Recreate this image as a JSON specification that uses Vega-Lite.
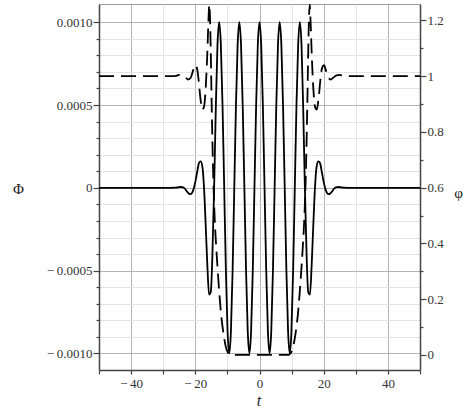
{
  "$schema": "https://vega.github.io/schema/vega-lite/v6.json",
  "width": 321,
  "height": 366,
  "autosize": {"type": "none"},
  "padding": {"left": 99, "top": 4, "right": 53, "bottom": 43},
  "background": "white",
  "config": {
    "view": {"stroke": "#9a9a9a", "strokeWidth": 1},
    "axis": {
      "labelFont": "Liberation Serif",
      "labelFontSize": 13,
      "labelColor": "#333333",
      "labelOverlap": false,
      "titleFont": "Liberation Serif",
      "titleColor": "#222222",
      "titleFontWeight": "normal",
      "domainColor": "#444444",
      "domainWidth": 1.5,
      "tickColor": "#444444",
      "tickWidth": 1.2,
      "labelPadding": 2,
      "gridWidth": 1
    }
  },
  "datasets": {
    "Phi": [
      {"t": -50, "P": 0},
      {"t": -28, "P": 0},
      {"t": -26.18, "P": 0.000001},
      {"t": -25.656, "P": 0.000002},
      {"t": -25.133, "P": 0.000004},
      {"t": -24.609, "P": 0.000005},
      {"t": -24.086, "P": 0.000004},
      {"t": -23.562, "P": 0},
      {"t": -23.038, "P": -0.00001},
      {"t": -22.515, "P": -0.000024},
      {"t": -21.991, "P": -0.000035},
      {"t": -21.468, "P": -0.000038},
      {"t": -20.944, "P": -0.000028},
      {"t": -20.42, "P": 0},
      {"t": -19.897, "P": 0.000045},
      {"t": -19.373, "P": 0.0001},
      {"t": -18.85, "P": 0.00015},
      {"t": -18.326, "P": 0.00016},
      {"t": -17.802, "P": 0.00013},
      {"t": -17.279, "P": 0},
      {"t": -16.755, "P": -0.000227},
      {"t": -16.232, "P": -0.000475},
      {"t": -15.708, "P": -0.000645},
      {"t": -15.184, "P": -0.00063},
      {"t": -14.661, "P": -0.0004},
      {"t": -14.137, "P": 0},
      {"t": -13.614, "P": 0.000477},
      {"t": -13.09, "P": 0.000862},
      {"t": -12.566, "P": 0.001},
      {"t": -12.043, "P": 0.000866},
      {"t": -11.519, "P": 0.0005},
      {"t": -10.996, "P": 0},
      {"t": -10.472, "P": -0.0005},
      {"t": -9.948, "P": -0.000866},
      {"t": -9.425, "P": -0.001},
      {"t": -8.901, "P": -0.000866},
      {"t": -8.378, "P": -0.0005},
      {"t": -7.854, "P": 0},
      {"t": -7.33, "P": 0.0005},
      {"t": -6.807, "P": 0.000866},
      {"t": -6.283, "P": 0.001},
      {"t": -5.76, "P": 0.000866},
      {"t": -5.236, "P": 0.0005},
      {"t": -4.712, "P": 0},
      {"t": -4.189, "P": -0.0005},
      {"t": -3.665, "P": -0.000866},
      {"t": -3.142, "P": -0.001},
      {"t": -2.618, "P": -0.000866},
      {"t": -2.094, "P": -0.0005},
      {"t": -1.571, "P": 0},
      {"t": -1.047, "P": 0.0005},
      {"t": -0.524, "P": 0.000866},
      {"t": 0, "P": 0.001},
      {"t": 0.524, "P": 0.000866},
      {"t": 1.047, "P": 0.0005},
      {"t": 1.571, "P": 0},
      {"t": 2.094, "P": -0.0005},
      {"t": 2.618, "P": -0.000866},
      {"t": 3.142, "P": -0.001},
      {"t": 3.665, "P": -0.000866},
      {"t": 4.189, "P": -0.0005},
      {"t": 4.712, "P": 0},
      {"t": 5.236, "P": 0.0005},
      {"t": 5.76, "P": 0.000866},
      {"t": 6.283, "P": 0.001},
      {"t": 6.807, "P": 0.000866},
      {"t": 7.33, "P": 0.0005},
      {"t": 7.854, "P": 0},
      {"t": 8.378, "P": -0.0005},
      {"t": 8.901, "P": -0.000866},
      {"t": 9.425, "P": -0.001},
      {"t": 9.948, "P": -0.000866},
      {"t": 10.472, "P": -0.0005},
      {"t": 10.996, "P": 0},
      {"t": 11.519, "P": 0.0005},
      {"t": 12.043, "P": 0.000866},
      {"t": 12.566, "P": 0.001},
      {"t": 13.09, "P": 0.000862},
      {"t": 13.614, "P": 0.000477},
      {"t": 14.137, "P": 0},
      {"t": 14.661, "P": -0.0004},
      {"t": 15.184, "P": -0.00063},
      {"t": 15.708, "P": -0.000645},
      {"t": 16.232, "P": -0.000475},
      {"t": 16.755, "P": -0.000227},
      {"t": 17.279, "P": 0},
      {"t": 17.802, "P": 0.00013},
      {"t": 18.326, "P": 0.00016},
      {"t": 18.85, "P": 0.00015},
      {"t": 19.373, "P": 0.0001},
      {"t": 19.897, "P": 0.000045},
      {"t": 20.42, "P": 0},
      {"t": 20.944, "P": -0.000028},
      {"t": 21.468, "P": -0.000038},
      {"t": 21.991, "P": -0.000035},
      {"t": 22.515, "P": -0.000024},
      {"t": 23.038, "P": -0.00001},
      {"t": 23.562, "P": 0},
      {"t": 24.086, "P": 0.000004},
      {"t": 24.609, "P": 0.000005},
      {"t": 25.133, "P": 0.000004},
      {"t": 25.656, "P": 0.000002},
      {"t": 26.18, "P": 0.000001},
      {"t": 28, "P": 0},
      {"t": 50, "P": 0}
    ],
    "phi": [
      {"t": -50, "f": 1},
      {"t": -27, "f": 1},
      {"t": -26, "f": 1.001},
      {"t": -25, "f": 1.005},
      {"t": -24, "f": 1.003},
      {"t": -23, "f": 0.995},
      {"t": -22.2, "f": 0.988},
      {"t": -21.4, "f": 0.995},
      {"t": -20.7, "f": 1.02},
      {"t": -20.1, "f": 1.04},
      {"t": -19.5, "f": 1.03},
      {"t": -19, "f": 0.99},
      {"t": -18.4, "f": 0.92},
      {"t": -17.85, "f": 0.88},
      {"t": -17.3, "f": 0.89},
      {"t": -16.8, "f": 0.95},
      {"t": -16.3, "f": 1.07},
      {"t": -15.9, "f": 1.2},
      {"t": -15.65, "f": 1.257},
      {"t": -15.45, "f": 1.22},
      {"t": -15.2, "f": 1.1},
      {"t": -14.9, "f": 0.9},
      {"t": -14.5, "f": 0.68},
      {"t": -14, "f": 0.5},
      {"t": -13.5, "f": 0.39},
      {"t": -13, "f": 0.3},
      {"t": -12.5, "f": 0.22},
      {"t": -12, "f": 0.15},
      {"t": -11.5, "f": 0.1},
      {"t": -11, "f": 0.06},
      {"t": -10.5, "f": 0.03},
      {"t": -10, "f": 0.012},
      {"t": -9.5, "f": 0.004},
      {"t": -9, "f": 0},
      {"t": 0, "f": 0},
      {"t": 9, "f": 0},
      {"t": 9.5, "f": 0.004},
      {"t": 10, "f": 0.012},
      {"t": 10.5, "f": 0.03},
      {"t": 11, "f": 0.06},
      {"t": 11.5, "f": 0.1},
      {"t": 12, "f": 0.15},
      {"t": 12.5, "f": 0.22},
      {"t": 13, "f": 0.3},
      {"t": 13.5, "f": 0.39},
      {"t": 14, "f": 0.5},
      {"t": 14.5, "f": 0.68},
      {"t": 14.9, "f": 0.9},
      {"t": 15.2, "f": 1.1},
      {"t": 15.45, "f": 1.22},
      {"t": 15.65, "f": 1.257},
      {"t": 15.9, "f": 1.2},
      {"t": 16.3, "f": 1.07},
      {"t": 16.8, "f": 0.95},
      {"t": 17.3, "f": 0.89},
      {"t": 17.85, "f": 0.88},
      {"t": 18.4, "f": 0.92},
      {"t": 19, "f": 0.99},
      {"t": 19.5, "f": 1.03},
      {"t": 20.1, "f": 1.04},
      {"t": 20.7, "f": 1.02},
      {"t": 21.4, "f": 0.995},
      {"t": 22.2, "f": 0.988},
      {"t": 23, "f": 0.995},
      {"t": 24, "f": 1.003},
      {"t": 25, "f": 1.005},
      {"t": 26, "f": 1.001},
      {"t": 27, "f": 1},
      {"t": 50, "f": 1}
    ]
  },
  "layer": [
    {
      "data": {"name": "Phi"},
      "mark": {"type": "line", "color": "#000000", "strokeWidth": 1.8, "interpolate": "monotone", "clip": true},
      "encoding": {
        "x": {
          "field": "t", "type": "quantitative",
          "scale": {"domain": [-50, 50], "nice": false, "zero": false},
          "axis": {
            "orient": "bottom",
            "values": [-50, -40, -30, -20, -10, 0, 10, 20, 30, 40, 50],
            "labels": false,
            "tickSize": 4,
            "gridColor": {"condition": {"test": "abs(datum.value) % 20 === 0", "value": "#b4b4b4"}, "value": "#e4e4e4"},
            "title": null
          }
        },
        "y": {
          "field": "P", "type": "quantitative",
          "scale": {"domain": [-0.0011, 0.00111], "nice": false, "zero": false},
          "axis": {
            "orient": "left",
            "values": [-0.001, -0.0009, -0.0008, -0.0007, -0.0006, -0.0005, -0.0004, -0.0003, -0.0002, -0.0001, 0, 0.0001, 0.0002, 0.0003, 0.0004, 0.0005, 0.0006, 0.0007, 0.0008, 0.0009, 0.001],
            "labelExpr": "round(datum.value * 10000) % 5 === 0 ? (round(datum.value * 10000) === 0 ? '0' : (datum.value < 0 ? '\u2212\u2009' + format(-datum.value, '.4f') : format(datum.value, '.4f'))) : ''",
            "labelOverlap": false,
            "tickSize": {"condition": {"test": "round(datum.value * 10000) % 5 === 0", "value": 6}, "value": 3},
            "labelPadding": 1,
            "gridColor": {"condition": {"test": "round(datum.value * 10000) % 5 === 0", "value": "#b4b4b4"}, "value": "#e4e4e4"},
            "title": "Φ",
            "titleAngle": 0,
            "titleFontSize": 15,
            "titleX": -81,
            "titleY": 184,
            "titleAlign": "center",
            "titleBaseline": "middle"
          }
        }
      }
    },
    {
      "data": {"name": "phi"},
      "mark": {"type": "line", "color": "#000000", "strokeWidth": 1.8, "strokeDash": [15, 7], "interpolate": "monotone", "clip": true},
      "encoding": {
        "x": {
          "field": "t", "type": "quantitative",
          "scale": {"domain": [-50, 50], "nice": false, "zero": false},
          "axis": {
            "orient": "bottom",
            "values": [-40, -20, 0, 20, 40],
            "labelExpr": "datum.value < 0 ? '\u2212\u2009' + format(-datum.value, 'd') : format(datum.value, 'd')",
            "labelOverlap": false,
            "labelFlush": false,
            "grid": false,
            "ticks": false,
            "domain": false,
            "labelPadding": 7,
            "title": "t",
            "titleFontStyle": "italic",
            "titleFontSize": 16,
            "titleX": 159.5,
            "titleY": 35,
            "titleAlign": "center",
            "titleBaseline": "alphabetic"
          }
        },
        "y": {
          "field": "f", "type": "quantitative",
          "scale": {"domain": [-0.054, 1.259], "nice": false, "zero": false},
          "axis": {
            "orient": "right",
            "values": [0, 0.1, 0.2, 0.3, 0.4, 0.5, 0.6, 0.7, 0.8, 0.9, 1, 1.1, 1.2],
            "labelExpr": "round(datum.value * 10) % 2 === 0 ? format(datum.value, '.2~f') : ''",
            "labelOverlap": false,
            "tickSize": {"condition": {"test": "round(datum.value * 10) % 2 === 0", "value": 6}, "value": 3},
            "labelPadding": 1,
            "gridColor": {"condition": {"test": "round(datum.value * 10) % 2 === 0", "value": "#b4b4b4"}, "value": "#e4e4e4"},
            "title": "φ",
            "titleAngle": 0,
            "titleFontSize": 15,
            "titleX": 38,
            "titleY": 188,
            "titleAlign": "center",
            "titleBaseline": "middle"
          }
        }
      }
    }
  ],
  "resolve": {"scale": {"x": "independent", "y": "independent"}, "axis": {"x": "independent", "y": "independent"}}
}
